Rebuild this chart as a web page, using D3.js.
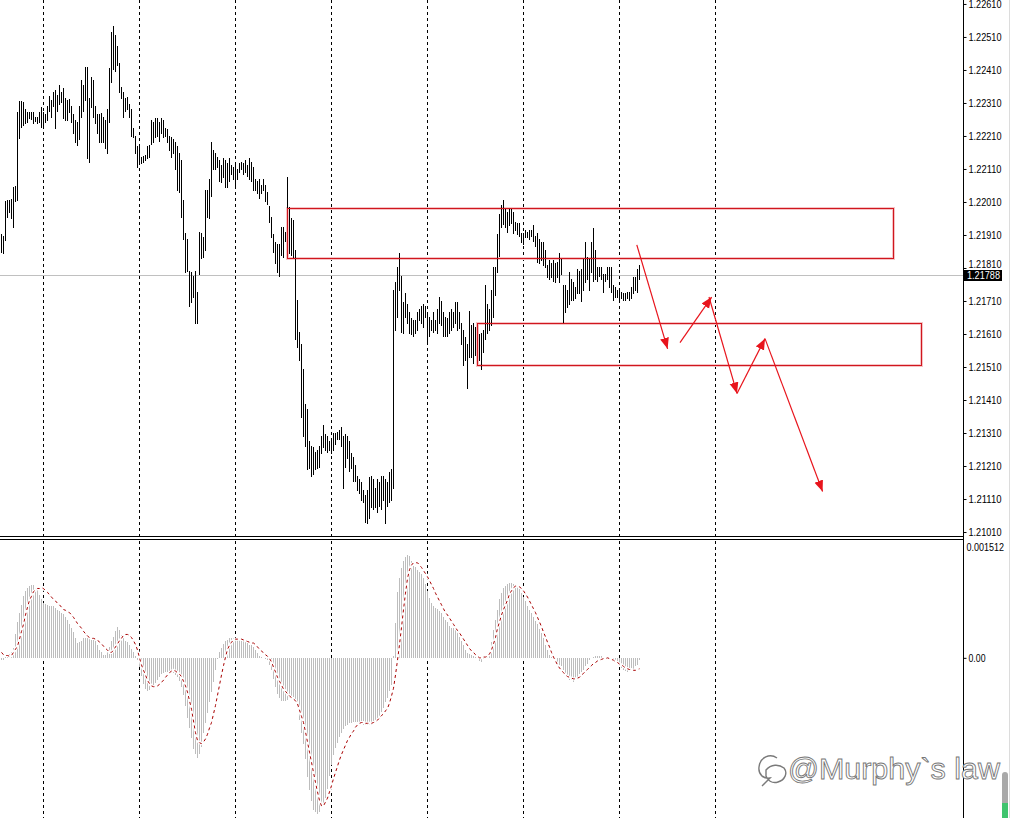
<!DOCTYPE html>
<html><head><meta charset="utf-8">
<script src="https://cdn.jsdelivr.net/npm/d3@7"></script>
<style>html,body{margin:0;padding:0;background:#fff;overflow:hidden}svg{display:block}</style>
</head><body>
<svg id="c" width="1011" height="818"></svg>
<script>
// ---------------- DATA ----------------
const highs = [
1.21910,1.21904,1.22010,1.22016,1.22016,1.22019,1.22055,1.22058,1.22280,1.22313,
1.22313,1.22310,1.22289,1.22280,1.22280,1.22280,1.22280,1.22267,1.22267,1.22280,
1.22295,1.22280,1.22274,1.22298,1.22331,1.22319,1.22343,1.22349,1.22334,1.22364,
1.22343,1.22355,1.22325,1.22319,1.22322,1.22298,1.22274,1.22258,1.22252,1.22298,
1.22377,1.22364,1.22416,1.22416,1.22325,1.22386,1.22377,1.22298,1.22274,1.22274,
1.22277,1.22267,1.22258,1.22289,1.22413,1.22525,1.22543,1.22513,1.22480,1.22431,
1.22358,1.22343,1.22325,1.22328,1.22304,1.22289,1.22234,1.22207,1.22177,1.22174,
1.22146,1.22149,1.22152,1.22177,1.22180,1.22258,1.22252,1.22264,1.22264,1.22252,
1.22264,1.22258,1.22234,1.22231,1.22207,1.22204,1.22198,1.22189,1.22177,1.22158,
1.22137,1.22016,1.21916,1.21895,1.21798,1.21795,1.21783,1.21798,1.21737,1.21919,
1.21916,1.21901,1.22046,1.22046,1.22077,1.22189,1.22167,1.22158,1.22146,1.22137,
1.22122,1.22143,1.22137,1.22128,1.22143,1.22122,1.22116,1.22122,1.22107,1.22128,
1.22131,1.22128,1.22137,1.22122,1.22143,1.22131,1.22116,1.22077,1.22071,1.22077,
1.22061,1.22077,1.22061,1.22040,1.21995,1.21964,1.21910,1.21886,1.21880,1.21880,
1.21934,1.21934,1.21919,1.22083,1.21992,1.21961,1.21955,1.21864,1.21713,1.21616,
1.21577,1.21501,1.21395,1.21380,1.21283,1.21268,1.21265,1.21252,1.21258,1.21268,
1.21298,1.21334,1.21304,1.21298,1.21283,1.21283,1.21310,1.21310,1.21313,1.21319,
1.21328,1.21298,1.21304,1.21298,1.21283,1.21249,1.21237,1.21213,1.21177,1.21168,
1.21159,1.21137,1.21122,1.21137,1.21174,1.21177,1.21168,1.21143,1.21168,1.21159,
1.21177,1.21177,1.21168,1.21159,1.21189,1.21198,1.21743,1.21765,1.21813,1.21855,
1.21783,1.21704,1.21734,1.21698,1.21674,1.21658,1.21652,1.21652,1.21674,1.21683,
1.21692,1.21698,1.21692,1.21674,1.21661,1.21652,1.21674,1.21652,1.21683,1.21722,
1.21707,1.21674,1.21661,1.21658,1.21674,1.21683,1.21674,1.21704,1.21704,1.21674,
1.21643,1.21622,1.21598,1.21577,1.21677,1.21637,1.21643,1.21631,1.21628,1.21607,
1.21613,1.21622,1.21758,1.21698,1.21683,1.21743,1.21813,1.21813,1.21910,1.21971,
1.21998,1.22016,1.21986,1.21977,1.21986,1.21986,1.21977,1.21949,1.21946,1.21946,
1.21916,1.21916,1.21925,1.21919,1.21925,1.21925,1.21940,1.21904,1.21916,1.21895,
1.21886,1.21886,1.21864,1.21819,1.21834,1.21825,1.21834,1.21825,1.21828,1.21855,
1.21840,1.21758,1.21758,1.21743,1.21795,1.21774,1.21765,1.21752,1.21804,1.21798,
1.21804,1.21840,1.21886,1.21843,1.21840,1.21886,1.21931,1.21864,1.21813,1.21813,
1.21810,1.21789,1.21789,1.21813,1.21813,1.21810,1.21758,1.21752,1.21743,1.21743,
1.21737,1.21734,1.21734,1.21737,1.21737,1.21752,1.21780,1.21780,1.21804,1.21819
];
const lows = [
1.21858,1.21855,1.21892,1.21964,1.21977,1.21961,1.21934,1.22010,1.22016,1.22201,
1.22237,1.22243,1.22249,1.22252,1.22264,1.22261,1.22249,1.22255,1.22249,1.22252,
1.22237,1.22237,1.22252,1.22258,1.22283,1.22267,1.22298,1.22234,1.22283,1.22304,
1.22310,1.22264,1.22258,1.22258,1.22280,1.22252,1.22219,1.22189,1.22180,1.22198,
1.22267,1.22283,1.22319,1.22143,1.22131,1.22295,1.22267,1.22249,1.22219,1.22189,
1.22189,1.22189,1.22171,1.22158,1.22252,1.22371,1.22410,1.22404,1.22425,1.22343,
1.22325,1.22267,1.22283,1.22289,1.22267,1.22207,1.22204,1.22158,1.22116,1.22128,
1.22128,1.22131,1.22137,1.22143,1.22146,1.22183,1.22189,1.22204,1.22207,1.22192,
1.22219,1.22204,1.22207,1.22189,1.22167,1.22146,1.22158,1.22107,1.22046,1.22040,
1.21964,1.21895,1.21795,1.21798,1.21692,1.21704,1.21722,1.21643,1.21643,1.21789,
1.21840,1.21843,1.21864,1.21964,1.21961,1.22028,1.22107,1.22107,1.22113,1.22071,
1.22068,1.22083,1.22055,1.22055,1.22071,1.22092,1.22077,1.22055,1.22077,1.22098,
1.22107,1.22092,1.22098,1.22086,1.22077,1.22071,1.22046,1.22046,1.22037,1.22022,
1.22037,1.22046,1.22010,1.22001,1.21949,1.21901,1.21858,1.21825,1.21795,1.21783,
1.21849,1.21843,1.21889,1.21992,1.21855,1.21849,1.21843,1.21592,1.21568,1.21531,
1.21358,1.21298,1.21268,1.21198,1.21204,1.21177,1.21183,1.21198,1.21204,1.21207,
1.21249,1.21265,1.21258,1.21252,1.21258,1.21249,1.21258,1.21274,1.21289,1.21289,
1.21268,1.21143,1.21207,1.21234,1.21192,1.21204,1.21162,1.21162,1.21137,1.21128,
1.21107,1.21098,1.21040,1.21037,1.21052,1.21083,1.21077,1.21083,1.21068,1.21086,
1.21077,1.21107,1.21037,1.21086,1.21098,1.21107,1.21143,1.21622,1.21661,1.21743,
1.21616,1.21613,1.21661,1.21643,1.21613,1.21607,1.21601,1.21613,1.21622,1.21652,
1.21643,1.21631,1.21661,1.21586,1.21601,1.21622,1.21616,1.21622,1.21613,1.21643,
1.21637,1.21601,1.21601,1.21601,1.21613,1.21622,1.21631,1.21643,1.21622,1.21628,
1.21577,1.21516,1.21531,1.21446,1.21540,1.21540,1.21522,1.21546,1.21531,1.21531,
1.21501,1.21555,1.21592,1.21613,1.21622,1.21637,1.21661,1.21728,1.21795,1.21846,
1.21934,1.21943,1.21934,1.21919,1.21940,1.21946,1.21916,1.21925,1.21910,1.21904,
1.21886,1.21880,1.21901,1.21901,1.21895,1.21904,1.21889,1.21874,1.21828,1.21825,
1.21834,1.21819,1.21813,1.21780,1.21774,1.21780,1.21768,1.21765,1.21780,1.21765,
1.21789,1.21643,1.21674,1.21689,1.21698,1.21713,1.21713,1.21719,1.21734,1.21734,
1.21707,1.21743,1.21765,1.21774,1.21743,1.21795,1.21768,1.21774,1.21768,1.21783,
1.21774,1.21737,1.21768,1.21774,1.21752,1.21737,1.21713,1.21722,1.21722,1.21713,
1.21719,1.21713,1.21713,1.21719,1.21713,1.21719,1.21734,1.21743,1.21737,1.21774
];
// MACD main line (histogram), one value per bar
const macdMain = [
-3e-5,-3e-5,1e-5,4e-5,5e-5,7e-5,13e-5,30e-5,46e-5,57e-5,
68e-5,79e-5,86e-5,90e-5,92e-5,93e-5,93e-5,90e-5,87e-5,80e-5,
75e-5,71e-5,69e-5,68e-5,67e-5,66e-5,66e-5,64e-5,62e-5,60e-5,
58e-5,56e-5,52e-5,48e-5,43e-5,38e-5,33e-5,25e-5,19e-5,20e-5,
22e-5,25e-5,25e-5,25e-5,24e-5,23e-5,23e-5,21e-5,16e-5,10e-5,
7e-5,4e-5,4e-5,7e-5,14e-5,21e-5,27e-5,34e-5,40e-5,36e-5,
29e-5,25e-5,22e-5,20e-5,16e-5,11e-5,7e-5,2e-5,-3e-5,-12e-5,
-23e-5,-33e-5,-40e-5,-43e-5,-41e-5,-38e-5,-36e-5,-32e-5,-29e-5,-24e-5,
-21e-5,-19e-5,-18e-5,-18e-5,-19e-5,-20e-5,-20e-5,-22e-5,-25e-5,-30e-5,
-38e-5,-48e-5,-62e-5,-77e-5,-90e-5,-103e-5,-117e-5,-124e-5,-129e-5,-124e-5,
-114e-5,-96e-5,-83e-5,-71e-5,-57e-5,-44e-5,-31e-5,-15e-5,-2e-5,7e-5,
13e-5,18e-5,21e-5,23e-5,25e-5,25e-5,25e-5,25e-5,24e-5,24e-5,
22e-5,21e-5,20e-5,19e-5,17e-5,16e-5,14e-5,10e-5,6e-5,3e-5,
1e-5,0,-1e-5,-3e-5,-9e-5,-15e-5,-27e-5,-37e-5,-47e-5,-52e-5,
-55e-5,-56e-5,-55e-5,-54e-5,-51e-5,-50e-5,-50e-5,-56e-5,-64e-5,-80e-5,
-96e-5,-111e-5,-130e-5,-153e-5,-170e-5,-184e-5,-195e-5,-198e-5,-200e-5,-198e-5,
-187e-5,-187e-5,-180e-5,-168e-5,-152e-5,-137e-5,-125e-5,-116e-5,-109e-5,-102e-5,
-96e-5,-91e-5,-88e-5,-86e-5,-84e-5,-83e-5,-82e-5,-82e-5,-82e-5,-83e-5,
-84e-5,-86e-5,-86e-5,-86e-5,-86e-5,-86e-5,-85e-5,-82e-5,-79e-5,-75e-5,
-70e-5,-64e-5,-57e-5,-51e-5,-43e-5,-35e-5,2e-5,45e-5,85e-5,103e-5,
115e-5,124e-5,129e-5,132e-5,131e-5,124e-5,118e-5,116e-5,113e-5,110e-5,
107e-5,102e-5,95e-5,86e-5,77e-5,70e-5,67e-5,64e-5,63e-5,60e-5,
57e-5,53e-5,49e-5,46e-5,41e-5,38e-5,38e-5,36e-5,33e-5,27e-5,
21e-5,16e-5,10e-5,6e-5,5e-5,4e-5,2e-5,1e-5,0,-4e-5,
-5e-5,-2e-5,0,2e-5,7e-5,20e-5,36e-5,49e-5,62e-5,75e-5,
83e-5,89e-5,92e-5,95e-5,96e-5,96e-5,95e-5,93e-5,91e-5,88e-5,
83e-5,78e-5,73e-5,66e-5,62e-5,58e-5,53e-5,47e-5,43e-5,37e-5,
32e-5,25e-5,17e-5,10e-5,4e-5,1e-5,-2e-5,-3e-5,-6e-5,-9e-5,
-11e-5,-15e-5,-20e-5,-24e-5,-28e-5,-29e-5,-31e-5,-28e-5,-24e-5,-21e-5,
-18e-5,-15e-5,-11e-5,-8e-5,-3e-5,0,1e-5,2e-5,2e-5,2e-5,
2e-5,1e-5,1e-5,0,-1e-5,-2e-5,-3e-5,-5e-5,-8e-5,-10e-5,
-13e-5,-15e-5,-17e-5,-18e-5,-17e-5,-16e-5,-14e-5,-11e-5,-9e-5,-3e-5
];
// MACD signal line, one value per bar
const macdSignal = [
7e-5,4e-5,3e-5,3e-5,2e-5,3e-5,7e-5,11e-5,15e-5,24e-5,
34e-5,43e-5,55e-5,65e-5,74e-5,79e-5,85e-5,87e-5,89e-5,89e-5,
90e-5,89e-5,86e-5,84e-5,81e-5,78e-5,75e-5,73e-5,70e-5,68e-5,
65e-5,62e-5,61e-5,59e-5,58e-5,55e-5,52e-5,48e-5,44e-5,41e-5,
38e-5,34e-5,31e-5,28e-5,26e-5,25e-5,25e-5,24e-5,23e-5,20e-5,
18e-5,15e-5,12e-5,10e-5,7e-5,7e-5,10e-5,14e-5,18e-5,22e-5,
25e-5,29e-5,30e-5,30e-5,29e-5,26e-5,22e-5,17e-5,10e-5,0,
-9e-5,-16e-5,-22e-5,-29e-5,-33e-5,-36e-5,-37e-5,-37e-5,-36e-5,-34e-5,
-31e-5,-29e-5,-25e-5,-22e-5,-19e-5,-17e-5,-16e-5,-17e-5,-19e-5,-21e-5,
-24e-5,-30e-5,-36e-5,-44e-5,-55e-5,-66e-5,-81e-5,-96e-5,-106e-5,-109e-5,
-110e-5,-108e-5,-104e-5,-98e-5,-90e-5,-83e-5,-72e-5,-61e-5,-48e-5,-35e-5,
-22e-5,-10e-5,1e-5,11e-5,16e-5,20e-5,23e-5,24e-5,24e-5,24e-5,
24e-5,23e-5,22e-5,21e-5,20e-5,19e-5,19e-5,17e-5,14e-5,11e-5,
9e-5,6e-5,4e-5,2e-5,-1e-5,-5e-5,-12e-5,-18e-5,-25e-5,-30e-5,
-35e-5,-40e-5,-43e-5,-46e-5,-49e-5,-51e-5,-53e-5,-55e-5,-59e-5,-67e-5,
-75e-5,-83e-5,-95e-5,-108e-5,-121e-5,-134e-5,-147e-5,-160e-5,-172e-5,-183e-5,
-190e-5,-190e-5,-185e-5,-180e-5,-172e-5,-164e-5,-155e-5,-147e-5,-139e-5,-131e-5,
-124e-5,-118e-5,-112e-5,-106e-5,-102e-5,-97e-5,-94e-5,-89e-5,-86e-5,-84e-5,
-83e-5,-83e-5,-84e-5,-84e-5,-84e-5,-84e-5,-83e-5,-82e-5,-80e-5,-77e-5,
-74e-5,-72e-5,-68e-5,-65e-5,-58e-5,-49e-5,-39e-5,-22e-5,-3e-5,17e-5,
39e-5,62e-5,83e-5,102e-5,113e-5,119e-5,122e-5,122e-5,122e-5,119e-5,
116e-5,112e-5,108e-5,104e-5,99e-5,94e-5,89e-5,83e-5,78e-5,73e-5,
68e-5,63e-5,58e-5,55e-5,51e-5,47e-5,43e-5,39e-5,35e-5,32e-5,
28e-5,24e-5,20e-5,16e-5,12e-5,9e-5,7e-5,4e-5,2e-5,0,
0,1e-5,1e-5,2e-5,5e-5,10e-5,18e-5,26e-5,38e-5,46e-5,
55e-5,62e-5,68e-5,74e-5,82e-5,86e-5,90e-5,92e-5,92e-5,91e-5,
89e-5,86e-5,82e-5,78e-5,73e-5,68e-5,63e-5,58e-5,52e-5,46e-5,
40e-5,33e-5,27e-5,20e-5,14e-5,7e-5,1e-5,-4e-5,-9e-5,-13e-5,
-16e-5,-19e-5,-22e-5,-24e-5,-25e-5,-26e-5,-27e-5,-27e-5,-26e-5,-25e-5,
-22e-5,-20e-5,-17e-5,-15e-5,-12e-5,-10e-5,-7e-5,-6e-5,-4e-5,-3e-5,
-2e-5,-1e-5,-1e-5,0,-1e-5,-2e-5,-3e-5,-5e-5,-6e-5,-8e-5,
-9e-5,-11e-5,-13e-5,-14e-5,-15e-5,-15e-5,-16e-5,-16e-5,-15e-5,-14e-5
];
const priceTicks = [1.22610,1.22510,1.22410,1.22310,1.22210,1.22110,1.22010,1.21910,1.21810,1.21710,1.21610,1.21510,1.21410,1.21310,1.21210,1.21110,1.21010];
const macdTicks = [0.001512, 0];
const gridBars = [21,69,117,165,213,261,309,357];
const currentPrice = 1.21788;
// zones: bar index range and price bounds
const zoneFrom   = [143, 238];
const zoneTo     = [446, 460];
const zoneTop    = [1.21992, 1.21643];
const zoneBottom = [1.21840, 1.21516];
// arrows: start (bar, price) -> end (bar, price)
const arrowFromBar   = [317.9, 339.5, 354.0, 368.0, 382.0];
const arrowFromPrice = [1.21880, 1.21584, 1.21722, 1.21430, 1.21596];
const arrowToBar     = [333.3, 355.3, 368.0, 382.0, 410.8];
const arrowToPrice   = [1.21565, 1.21722, 1.21430, 1.21596, 1.21133];
const watermark = "@Murphy`s law";

// ---------------- DRAW ----------------
const svg = d3.select("#c");
const AX = 963;               // price axis position
const FONT = "'Liberation Sans', Arial, sans-serif";
const x  = d3.scaleLinear().domain([0, 481]).range([1, AX]);
const yP = d3.scaleLinear().domain([1.21001, 1.22622]).range([535, 0]);
const yM = d3.scaleLinear().domain([-0.002055, 0.001512]).range([818, 540]);
const px = i => Math.round(x(i)) + 0.5;

svg.append("rect").attr("width",1011).attr("height",818).attr("fill","#fff");

// vertical dotted grid
const grid = svg.append("g").attr("stroke","#000").attr("stroke-width",1)
  .attr("stroke-dasharray","3,3").attr("shape-rendering","crispEdges");
gridBars.forEach(b => {
  grid.append("line").attr("x1",px(b)).attr("x2",px(b)).attr("y1",0).attr("y2",536);
  grid.append("line").attr("x1",px(b)).attr("x2",px(b)).attr("y1",541).attr("y2",818);
});

// current price line
const cpY = Math.round(yP(currentPrice)) + 0.5;
svg.append("line").attr("x1",0).attr("x2",AX).attr("y1",cpY).attr("y2",cpY)
  .attr("stroke","#c0c0c0").attr("shape-rendering","crispEdges");

// zones (soft halo + line, like the reference)
const zoneRects = zoneFrom.map((f,k) => {
  const x0 = px(f), x1 = px(zoneTo[k]);
  const y0 = Math.round(yP(zoneTop[k])) + 0.5, y1 = Math.round(yP(zoneBottom[k])) + 0.5;
  return {x0, x1, y0, y1};
});
const zh = svg.append("g").attr("fill","none").attr("stroke","#f6c4c6").attr("stroke-width",3);
zoneRects.forEach(r => zh.append("rect").attr("x",r.x0).attr("y",r.y0).attr("width",r.x1-r.x0).attr("height",r.y1-r.y0));

// price bars (high-low)
svg.append("g").attr("stroke","#000").attr("stroke-width",1).attr("shape-rendering","crispEdges")
  .selectAll("line").data(highs).join("line")
  .attr("x1",(d,i)=>px(i)).attr("x2",(d,i)=>px(i))
  .attr("y1",d=>Math.floor(yP(d))).attr("y2",(d,i)=>Math.ceil(yP(lows[i]))+0.01);

const zl = svg.append("g").attr("fill","none").attr("stroke","#d0161e").attr("stroke-width",1)
  .attr("shape-rendering","crispEdges");
zoneRects.forEach(r => zl.append("rect").attr("x",r.x0).attr("y",r.y0).attr("width",r.x1-r.x0).attr("height",r.y1-r.y0));

// arrows
const defs = svg.append("defs");
defs.append("marker").attr("id","ah").attr("markerUnits","userSpaceOnUse")
  .attr("markerWidth",12).attr("markerHeight",10).attr("refX",11).attr("refY",4.5)
  .attr("orient","auto")
  .append("path").attr("d","M0,0 L11,4.5 L0,9 Z").attr("fill","#e8141c");
const arr = svg.append("g").attr("stroke","#e8141c").attr("stroke-width",1.2);
arrowFromBar.forEach((b,k) => {
  arr.append("line").attr("x1",x(b)).attr("y1",yP(arrowFromPrice[k]))
    .attr("x2",x(arrowToBar[k])).attr("y2",yP(arrowToPrice[k]))
    .attr("marker-end","url(#ah)");
});

// panel separator
[536.5, 539.5].forEach(yy => svg.append("line").attr("x1",0).attr("x2",AX).attr("y1",yy).attr("y2",yy)
  .attr("stroke","#000").attr("shape-rendering","crispEdges"));

// MACD histogram
const y0M = yM(0);
svg.append("g").attr("stroke","#bdbdbd").attr("stroke-width",1).attr("shape-rendering","crispEdges")
  .selectAll("line").data(macdMain).join("line")
  .attr("x1",(d,i)=>px(i)).attr("x2",(d,i)=>px(i))
  .attr("y1",Math.round(y0M)).attr("y2",d=>yM(d));

// MACD signal
const sigLine = d3.line().x((d,i)=>px(i)).y(d=>yM(d));
svg.append("path").datum(macdSignal).attr("d",sigLine).attr("fill","none")
  .attr("stroke","#fff").attr("stroke-width",3);
svg.append("path").datum(macdSignal).attr("d",sigLine).attr("fill","none")
  .attr("stroke","#a80000").attr("stroke-width",1).attr("stroke-dasharray","3,3");

// price axis
svg.append("line").attr("x1",AX+0.5).attr("x2",AX+0.5).attr("y1",0).attr("y2",818)
  .attr("stroke","#000").attr("shape-rendering","crispEdges");
const pAxis = d3.axisRight(yP).tickValues(priceTicks).tickFormat(d3.format(".5f")).tickSize(3).tickPadding(2);
const gpa = svg.append("g").attr("transform",`translate(${AX+0.5},0)`).call(pAxis);
gpa.select(".domain").remove();
gpa.selectAll(".tick line").attr("stroke","#000");
gpa.selectAll("text").attr("font-family",FONT).attr("font-size",10).attr("fill","#000")
  .attr("textLength",33).attr("lengthAdjust","spacingAndGlyphs");
// the label partly hidden behind the current-price box, as in the reference
gpa.selectAll(".tick").filter(d => Math.abs(d - currentPrice) < 0.0004)
  .select("text").attr("dy","-0.05em");

// current price label
const cpLab = svg.append("g");
cpLab.append("rect").attr("x",AX+1).attr("y",cpY-5.5).attr("width",38).attr("height",11).attr("fill","#000");
cpLab.append("text").attr("x",AX+4).attr("y",cpY).attr("dy","0.35em").attr("fill","#fff")
  .attr("font-family",FONT).attr("font-size",10).attr("textLength",33).attr("lengthAdjust","spacingAndGlyphs")
  .text(d3.format(".5f")(currentPrice));

// MACD axis
const mAxis = d3.axisRight(yM).tickValues(macdTicks)
  .tickFormat(d => d === 0 ? "0.00" : d3.format(".6f")(d)).tickSize(3).tickPadding(2);
const gma = svg.append("g").attr("transform",`translate(${AX+0.5},0)`).call(mAxis);
gma.select(".domain").remove();
gma.selectAll(".tick line").attr("stroke","#000");
gma.selectAll("text").attr("font-family",FONT).attr("font-size",10).attr("fill","#000")
  .attr("textLength",d => d === 0 ? 17 : 37.5).attr("lengthAdjust","spacingAndGlyphs");
gma.selectAll(".tick").filter(d => d !== 0).each(function(){
  d3.select(this).select("line").remove();
  d3.select(this).select("text").attr("x",3).attr("dy","1.05em");
});

// watermark
const wm = svg.append("g");
wm.append("path")
  .attr("d","M777,758 C770,753 760,757 759,767 C758,775 764,779 770,778 L762,786 M766,770 C771,764 779,764 784,768 C788,773 785,780 778,782 C772,784 767,780 766,776 Z")
  .attr("fill","none").attr("stroke","#7a7a7a").attr("stroke-width",1.4);
wm.append("text").attr("x",788).attr("y",779).text(watermark)
  .attr("font-family",FONT).attr("font-size",30).attr("fill","#fff")
  .attr("stroke","#777").attr("stroke-width",0.9)
  .attr("textLength",212).attr("lengthAdjust","spacingAndGlyphs");

// scrollbar fragment
svg.append("line").attr("x1",1009.5).attr("x2",1009.5).attr("y1",0).attr("y2",818).attr("stroke","#dcdcdc");
svg.append("rect").attr("x",1002).attr("y",772).attr("width",6).attr("height",46).attr("rx",3).attr("fill","#a9a9a9");
svg.append("rect").attr("x",1002).attr("y",803).attr("width",6).attr("height",15).attr("fill","#3fc46e");
</script>
</body></html>
